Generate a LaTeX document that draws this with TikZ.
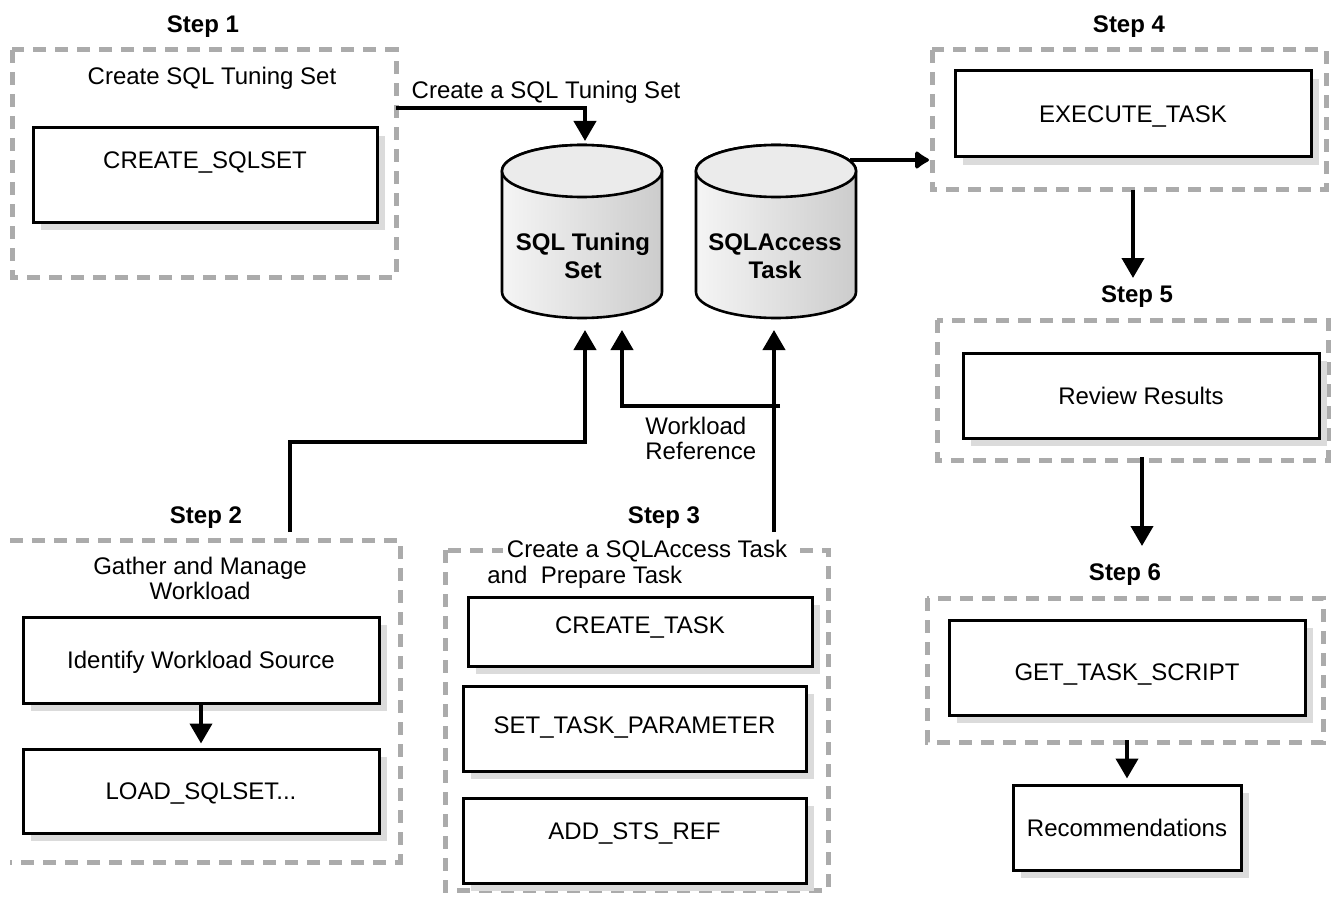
\documentclass[tikz,border=0pt]{standalone}
\usepackage{fontspec}
\setmainfont{Liberation Sans}
\usetikzlibrary{arrows.meta,shadows}
\begin{document}
\begin{tikzpicture}[x=0.5pt,y=-0.5pt,
  font=\fontsize{12}{12.5}\selectfont,
  box/.style={draw=black, line width=1.5pt, fill=white, inner sep=0pt, text height=8.6pt, text depth=0pt,
    drop shadow={shadow xshift=4pt, shadow yshift=-4pt, fill=black!14, opacity=1}},
  frame/.style={draw=black!33, line width=2.5pt, dash pattern=on 6.5pt off 4.5pt},
  steplbl/.style={font=\fontsize{12}{14}\selectfont\bfseries},
  cyltext/.style={font=\fontsize{12}{14}\selectfont\bfseries, align=center},
  cylbody/.style={draw=black, line width=1.3pt, left color=black!4, right color=black!20},
  cyltop/.style={draw=black, line width=1.3pt, fill=black!8},
  conn/.style={line width=2pt, -{Triangle[width=11pt,length=10pt]}},
  roundconn/.style={line width=2.2pt, -{Latex[round,length=8pt,width=11pt]}}]
\useasboundingbox (0,0) rectangle (1334,899);

% ---------- frames ----------
\draw[frame] (12,50) rectangle (396,277);
\draw[frame] (10,540) -- (400,540) -- (400,862) -- (10,862);
\draw[frame] (445,550) rectangle (828,890);
\draw[frame] (932,50) rectangle (1326,190);
\draw[frame] (937,320) rectangle (1328,460);
\draw[frame] (927,598) rectangle (1323,742);

% ---------- step labels ----------
\node[steplbl] (st1) at (203,27) {Step 1};
\node[steplbl] (st2) at (206,518) {Step 2};
\node[steplbl] (st3) at (664,518) {Step 3};
\node[steplbl] (st4) at (1129,27) {Step 4};
\node[steplbl] (st5) at (1137,297) {Step 5};
\node[steplbl] (st6) at (1125,575) {Step 6};

% ---------- titles ----------
\node (t1) at (212,78) {Create SQL Tuning Set};
\node[align=center] (t2) at (200,578) {Gather and Manage\\Workload};
\node[fill=white, inner sep=2pt] (t3) at (647,551) {Create a SQLAccess Task};
\node[anchor=west, inner sep=0pt] (t3b) at (487,577) {and\ \ Prepare Task};

% ---------- boxes ----------
\node[box, minimum width=172pt, minimum height=47pt, text depth=15pt] (sqlset) at (205,175) {CREATE\_SQLSET};
\node[box, minimum width=178pt, minimum height=43pt] (ident) at (201,660) {Identify Workload Source};
\node[box, minimum width=178pt, minimum height=42pt] (load) at (201,791) {LOAD\_SQLSET...};
\node[box, minimum width=172pt, minimum height=34.5pt, text depth=6.5pt] (ctask) at (640,631.5) {CREATE\_TASK};
\node[box, minimum width=171.5pt, minimum height=42.5pt, text depth=3.5pt] (stp) at (634.5,728.5) {SET\_TASK\_PARAMETER};
\node[box, minimum width=171.5pt, minimum height=42.5pt, text depth=10pt] (sts) at (634.5,840.5) {ADD\_STS\_REF};
\node[box, minimum width=178pt, minimum height=43pt] (exec) at (1133,114) {EXECUTE\_TASK};
\node[box, minimum width=178pt, minimum height=42.5pt] (review) at (1141,395.5) {Review Results};
\node[box, minimum width=178pt, minimum height=47.5pt, text height=13pt, text depth=0pt] (gts) at (1127,667.5) {GET\_TASK\_SCRIPT};
\node[box, minimum width=114pt, minimum height=42.5pt] (rec) at (1127,827.5) {Recommendations};

% ---------- cylinders ----------
\path[cylbody] (502,171) -- (502,292) arc[start angle=180,end angle=360,x radius=40pt,y radius=13pt]
  -- (662,171) arc[start angle=0,end angle=180,x radius=40pt,y radius=13pt] -- cycle;
\draw[cyltop] (582,171) ellipse [x radius=40pt, y radius=13pt];
\node[cyltext] (cyl1) at (583,256) {SQL Tuning\\Set};

\path[cylbody] (696,171) -- (696,292) arc[start angle=180,end angle=360,x radius=40pt,y radius=13pt]
  -- (856,171) arc[start angle=0,end angle=180,x radius=40pt,y radius=13pt] -- cycle;
\draw[cyltop] (776,171) ellipse [x radius=40pt, y radius=13pt];
\node[cyltext] (cyl2) at (775,256) {SQLAccess\\Task};

% ---------- coordinates ----------
\coordinate (s1out) at (396,108);
\coordinate (c1in) at (585,141);
\coordinate (s2out) at (290,532);
\coordinate (c1b) at (585,330);
\coordinate (s3out) at (774,532);
\coordinate (c2b) at (774,330);
\coordinate (br) at (780,406);
\coordinate (c1b2) at (622,330);
\coordinate (c2out) at (850,160);
\coordinate (s4in) at (929,160);
\coordinate (s4out) at (1133,190);
\coordinate (s5in) at (1133,278);
\coordinate (s5out) at (1142,457);
\coordinate (s6in) at (1142,546);
\coordinate (s6out) at (1127,740);

% ---------- connectors ----------
\draw[conn] (s1out) -| (c1in);
\node (lc) at (546,92) {Create a SQL Tuning Set};
\draw[conn] (s2out) -- ++(0,-90) -| (c1b);
\draw[conn] (s3out) -- (c2b);
\draw[conn] (br) -| (c1b2);
\node[align=left, anchor=west, inner sep=0pt] (wr) at (645,438) {Workload\\Reference};
\draw[roundconn] (c2out) -- (s4in);
\draw[conn] (s4out) -- (s5in);
\draw[conn] (s5out) -- (s6in);
\draw[conn, shorten >=2.5pt] (s6out) -- (rec.north);
\draw[conn, shorten >=2pt] (ident.south) -- (load.north);
\end{tikzpicture}
\end{document}
